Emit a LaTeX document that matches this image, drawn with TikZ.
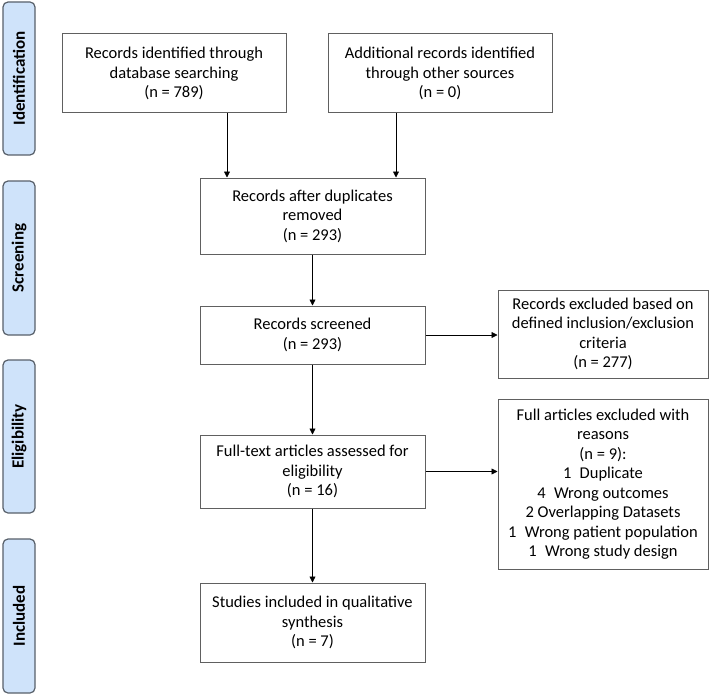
\documentclass[tikz,border=0pt]{standalone}
\usepackage{fontspec}
\setmainfont{Carlito}
\usetikzlibrary{positioning,calc}
\usetikzlibrary{arrows.meta}

\definecolor{tabfill}{HTML}{CFE3FA}
\definecolor{tabline}{HTML}{58606A}
\definecolor{boxline}{HTML}{606060}

\begin{document}
\begin{tikzpicture}[x=1pt,y=-1pt,
         stage/.style = {draw=tabline, fill=tabfill, line width=1.2pt,
         rounded corners=5pt, minimum width=32pt, inner sep=0pt},
         stagetext/.style = {rotate=90, font=\bfseries\fontsize{17}{19}\selectfont},
         box/.style = {draw=boxline, line width=1pt, align=center, inner sep=2pt,
         font=\fontsize{16.5}{19.5}\selectfont},
         flow/.style = {-{Triangle[length=6pt,width=6pt]}, line width=0.8pt}
]
         \useasboundingbox (0,0) rectangle (711,695);

         % stage tabs on the left
         \node[stage, minimum height=153pt] (tid)  at (19,78.5)  {};
         \node[stage, minimum height=154pt] (tscr) at (19,258)   {};
         \node[stage, minimum height=153pt] (tel)  at (19,436.5) {};
         \node[stage, minimum height=154pt] (tinc) at (19,616)   {};
         \node[stagetext] at (tid)  {Identification};
         \node[stagetext] at (tscr) {Screening};
         \node[stagetext] at (tel)  {Eligibility};
         \node[stagetext] at (tinc) {Included};

         % identification
         \node[box, minimum width=224pt, minimum height=79pt] (db)  at (174,73.5)
         {Records identified through\\database searching\\(n = 789)};
         \node[box, minimum width=224pt, minimum height=79pt] (oth) at (440,73.5)
         {Additional records identified\\through other sources\\(n = 0)};

         % screening
         \node[box, minimum width=225pt, minimum height=76pt] (dup) at (312.5,216)
         {Records after duplicates\\removed\\(n = 293)};
         \node[box, minimum width=225pt, minimum height=58pt] (scr) at (312.5,335)
         {Records screened\\(n = 293)};
         \node[box, minimum width=210pt, minimum height=88pt] (exc) at (603,334)
         {Records excluded based on\\defined inclusion/exclusion\\criteria\\(n = 277)};

         % eligibility
         \node[box, minimum width=225pt, minimum height=73pt] (ful) at (312.5,471.5)
         {Full-text articles assessed for\\eligibility\\(n = 16)};
         \node[box, minimum width=210pt, minimum height=170pt] (fex) at (603,484)
         {Full articles excluded with\\reasons\\(n = 9):\\1\enspace Duplicate\\4\enspace Wrong outcomes\\2 Overlapping Datasets\\1\enspace Wrong patient population\\1\enspace Wrong study design};

         % included
         \node[box, minimum width=225pt, minimum height=79pt] (inc) at (312.5,622.5)
         {Studies included in qualitative\\synthesis\\(n = 7)};

         % connectors
         \draw[flow] ([xshift=53pt]db.south) -- ([xshift=53pt]db.south |- dup.north);
         \draw[flow] ([xshift=-44pt]oth.south) -- ([xshift=-44pt]oth.south |- dup.north);
         \draw[flow] (dup) -- (scr);
         \draw[flow] (scr) -- (ful);
         \draw[flow] (ful) -- (inc);
         \draw[flow] (scr.east) -- (scr.east -| exc.west);
         \draw[flow] (ful.east) -- (ful.east -| fex.west);
\end{tikzpicture}
\end{document}
